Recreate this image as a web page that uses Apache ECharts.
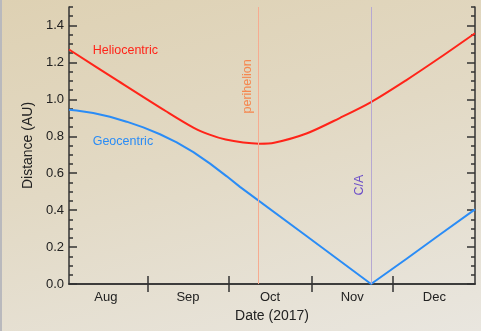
<!DOCTYPE html>
<html>
<head>
<meta charset="utf-8">
<script src="https://cdn.jsdelivr.net/npm/echarts@6/dist/echarts.min.js"></script>
<style>
html,body{margin:0;padding:0;}
#wrap{position:relative;width:481px;height:331px;background:linear-gradient(165deg,#ded1b3 0%,#e2d9c4 45%,#e9e6df 100%);}
#edge{position:absolute;left:0;top:0;width:2px;height:331px;background:#b9b9bd;}
#chart{position:absolute;left:0;top:0;width:481px;height:331px;}
</style>
</head>
<body>
<div id="wrap"><div id="edge"></div><div id="chart"></div></div>
<script>
// Days counted from 1 Aug 2017 (day 0 = Aug 1)
const months = ['Aug', 'Sep', 'Oct', 'Nov', 'Dec'];
const monthStartDay = [0, 31, 61, 92, 122, 153];
const yTickValues = [0, 0.2, 0.4, 0.6, 0.8, 1.0, 1.2, 1.4];

const helioDays = [1.8, 20, 38, 48, 54, 60, 66.5, 72.5, 78, 90, 102.5, 114, 127, 139.5, 152.6];
const helioAU   = [1.27, 1.10, 0.934, 0.847, 0.809, 0.782, 0.766, 0.76, 0.765, 0.815, 0.9, 0.985, 1.103, 1.225, 1.358];

const geoDays = [1.8, 4.6, 10.8, 17, 23.2, 29.4, 35.6, 41.8, 48, 54.2, 60.4, 65.3, 90, 114, 127.2, 139.6, 152.6];
const geoAU   = [0.944, 0.940, 0.926, 0.906, 0.879, 0.848, 0.811, 0.767, 0.714, 0.652, 0.583, 0.526, 0.26, 0.0, 0.137, 0.268, 0.404];

const perihelionDay = 72;
const closeApproachDay = 114;

const xMin = 1.8, xMax = 152.6;
const yMin = 0, yMax = 1.5;

const monthTicks = monthStartDay.slice(1, -1);
const monthCenters = months.map((m, i) => (monthStartDay[i] + monthStartDay[i + 1]) / 2);

const FONT = 'Liberation Sans';
const axisCol = '#333333';

const chart = echarts.init(document.getElementById('chart'), null, {renderer: 'canvas'});

function pairs(xs, ys) { return xs.map((x, i) => [x, ys[i]]); }

const baseY = {
  type: 'value', min: yMin, max: yMax, interval: 0.2,
  splitLine: {show: false}
};

chart.setOption({
  backgroundColor: 'transparent',
  animation: false,
  grid: {left: 69, right: 6, top: 7, bottom: 47, containLabel: false},
  xAxis: [
    {
      type: 'value', position: 'bottom', min: xMin, max: xMax,
      name: 'Date (2017)', nameLocation: 'middle', nameGap: 24,
      nameTextStyle: {fontFamily: FONT, fontSize: 14, color: '#222'},
      axisLine: {show: true, lineStyle: {color: axisCol, width: 1.5}},
      axisTick: {show: true, inside: true, length: 8, customValues: monthTicks, lineStyle: {color: axisCol, width: 1.5}},
      axisLabel: {show: true, customValues: monthCenters, margin: 7, fontFamily: FONT, fontSize: 13, color: '#222',
        formatter: v => { const i = monthCenters.findIndex(c => Math.abs(c - v) < 0.01); return i >= 0 ? months[i] : ''; }},
      splitLine: {show: false}
    },
    {
      type: 'value', position: 'top', min: xMin, max: xMax,
      axisLine: {show: true, lineStyle: {color: axisCol, width: 1.5}},
      axisTick: {show: true, inside: true, length: 8, customValues: monthTicks, lineStyle: {color: axisCol, width: 1.5}},
      axisLabel: {show: false},
      splitLine: {show: false}
    }
  ],
  yAxis: [
    Object.assign({}, baseY, {
      position: 'left',
      name: 'Distance (AU)', nameLocation: 'middle', nameGap: 33,
      nameTextStyle: {fontFamily: FONT, fontSize: 14, color: '#222'},
      axisLine: {show: true, lineStyle: {color: axisCol, width: 1.5}},
      axisTick: {show: true, inside: true, length: 8, customValues: yTickValues, lineStyle: {color: axisCol, width: 1.5}},
      axisLabel: {show: true, customValues: yTickValues, margin: 5, fontFamily: FONT, fontSize: 13, color: '#222',
        formatter: v => v.toFixed(1)}
    }),
    Object.assign({}, baseY, {
      position: 'left', interval: 0.05,
      axisLine: {show: false},
      axisTick: {show: true, inside: true, length: 4, lineStyle: {color: axisCol, width: 1.5}},
      axisLabel: {show: false}
    }),
    Object.assign({}, baseY, {
      position: 'right',
      axisLine: {show: true, lineStyle: {color: axisCol, width: 1.5}},
      axisTick: {show: true, inside: true, length: 8, customValues: yTickValues, lineStyle: {color: axisCol, width: 1.5}},
      axisLabel: {show: false}
    }),
    Object.assign({}, baseY, {
      position: 'right', interval: 0.05,
      axisLine: {show: false},
      axisTick: {show: true, inside: true, length: 4, lineStyle: {color: axisCol, width: 1.5}},
      axisLabel: {show: false}
    })
  ],
  series: [
    {
      name: 'events', type: 'line', data: [], xAxisIndex: 0, yAxisIndex: 0,
      markLine: {
        silent: true, symbol: 'none', animation: false,
        data: [
          [{coord: [perihelionDay, yMin], lineStyle: {color: '#f6ab90', width: 1, type: 'solid'}, label: {show: false}},
           {coord: [perihelionDay, yMax]}],
          [{coord: [closeApproachDay, yMin], lineStyle: {color: '#b6a8d2', width: 1, type: 'solid'}, label: {show: false}},
           {coord: [closeApproachDay, yMax]}],
          [{coord: [perihelionDay, 0.9], lineStyle: {color: 'rgba(0,0,0,0)', width: 1, type: 'solid'},
            label: {show: true, position: 'insideMiddleTop', distance: 4, formatter: 'perihelion', color: '#f5874f', fontFamily: FONT, fontSize: 12.5}},
           {coord: [perihelionDay, 1.24]}],
          [{coord: [closeApproachDay, 0.45], lineStyle: {color: 'rgba(0,0,0,0)', width: 1, type: 'solid'},
            label: {show: true, position: 'insideMiddleTop', distance: 5, formatter: 'C/A', color: '#6a4cc8', fontFamily: FONT, fontSize: 12.5}},
           {coord: [closeApproachDay, 0.62]}]
        ]
      }
    },
    {
      name: 'Heliocentric', type: 'line', xAxisIndex: 0, yAxisIndex: 0,
      data: pairs(helioDays, helioAU), smooth: 0.3, showSymbol: false,
      lineStyle: {color: '#ff2419', width: 2},
      markPoint: {
        silent: true, symbol: 'circle', symbolSize: 0,
        data: [{coord: [10.6, 1.265], label: {show: true, position: 'right', distance: 0, formatter: 'Heliocentric', color: '#ff2419', fontFamily: FONT, fontSize: 12.5}}]
      }
    },
    {
      name: 'Geocentric', type: 'line', xAxisIndex: 0, yAxisIndex: 0,
      data: pairs(geoDays, geoAU), smooth: false, showSymbol: false,
      lineStyle: {color: '#2a8cf6', width: 2},
      markPoint: {
        silent: true, symbol: 'circle', symbolSize: 0,
        data: [{coord: [10.6, 0.772], label: {show: true, position: 'right', distance: 0, formatter: 'Geocentric', color: '#2a8cf6', fontFamily: FONT, fontSize: 12.5}}]
      }
    }
  ]
});
</script>
</body>
</html>
